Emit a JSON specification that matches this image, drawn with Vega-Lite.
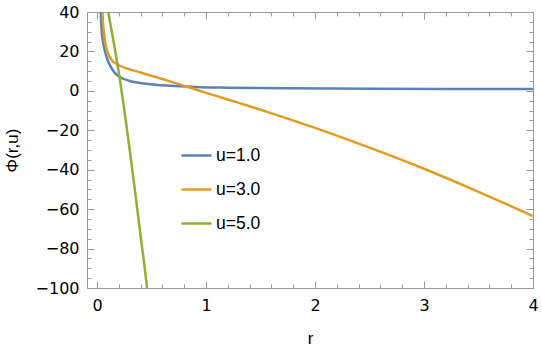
{
  "$schema": "https://vega.github.io/schema/vega-lite/v6.json",
  "width": 446,
  "height": 276,
  "autosize": {"type": "none"},
  "padding": {"left": 87, "top": 12, "right": 9, "bottom": 65},
  "background": "white",
  "config": {
    "view": {"stroke": null},
    "font": "Liberation Sans",
    "axis": {
      "grid": false,
      "domainColor": "#999999",
      "domainWidth": 1,
      "tickColor": "#999999",
      "tickWidth": 1,
      "labelFont": "DejaVu Sans",
      "labelFontSize": 16,
      "labelColor": "#000000",
      "titleFont": "Liberation Sans",
      "titleFontSize": 17,
      "titleFontWeight": "normal",
      "titleColor": "#000000",
      "labelOverlap": false,
      "labelFlush": false
    }
  },
  "datasets": {
    "curves": [
      {"r": 0.031, "phi": 45, "u": "u=1.0"},
      {"r": 0.034, "phi": 40, "u": "u=1.0"},
      {"r": 0.043, "phi": 30, "u": "u=1.0"},
      {"r": 0.058, "phi": 24, "u": "u=1.0"},
      {"r": 0.083, "phi": 18, "u": "u=1.0"},
      {"r": 0.12, "phi": 12.8, "u": "u=1.0"},
      {"r": 0.165, "phi": 9, "u": "u=1.0"},
      {"r": 0.21, "phi": 7, "u": "u=1.0"},
      {"r": 0.33, "phi": 4.6, "u": "u=1.0"},
      {"r": 0.49, "phi": 3.4, "u": "u=1.0"},
      {"r": 0.64, "phi": 2.7, "u": "u=1.0"},
      {"r": 0.82, "phi": 2.15, "u": "u=1.0"},
      {"r": 0.95, "phi": 1.85, "u": "u=1.0"},
      {"r": 1.2, "phi": 1.6, "u": "u=1.0"},
      {"r": 1.7, "phi": 1.35, "u": "u=1.0"},
      {"r": 2.5, "phi": 1.1, "u": "u=1.0"},
      {"r": 3.2, "phi": 0.97, "u": "u=1.0"},
      {"r": 4.0, "phi": 0.9, "u": "u=1.0"},

      {"r": 0.047, "phi": 45, "u": "u=3.0"},
      {"r": 0.05, "phi": 40, "u": "u=3.0"},
      {"r": 0.064, "phi": 29, "u": "u=3.0"},
      {"r": 0.089, "phi": 21, "u": "u=3.0"},
      {"r": 0.135, "phi": 15.6, "u": "u=3.0"},
      {"r": 0.18, "phi": 13.6, "u": "u=3.0"},
      {"r": 0.27, "phi": 11.4, "u": "u=3.0"},
      {"r": 0.4, "phi": 9.3, "u": "u=3.0"},
      {"r": 0.49, "phi": 7.8, "u": "u=3.0"},
      {"r": 0.6, "phi": 6.0, "u": "u=3.0"},
      {"r": 0.7, "phi": 4.3, "u": "u=3.0"},
      {"r": 0.82, "phi": 2.2, "u": "u=3.0"},
      {"r": 1.0, "phi": -1, "u": "u=3.0"},
      {"r": 1.25, "phi": -5.2, "u": "u=3.0"},
      {"r": 1.5, "phi": -9.6, "u": "u=3.0"},
      {"r": 1.68, "phi": -12.8, "u": "u=3.0"},
      {"r": 2.0, "phi": -18.8, "u": "u=3.0"},
      {"r": 2.5, "phi": -28.8, "u": "u=3.0"},
      {"r": 3.0, "phi": -39.5, "u": "u=3.0"},
      {"r": 3.5, "phi": -51.2, "u": "u=3.0"},
      {"r": 4.0, "phi": -63.5, "u": "u=3.0"},

      {"r": 0.1, "phi": 41.5, "u": "u=5.0"},
      {"r": 0.104, "phi": 40, "u": "u=5.0"},
      {"r": 0.15, "phi": 25.5, "u": "u=5.0"},
      {"r": 0.205, "phi": 7.5, "u": "u=5.0"},
      {"r": 0.25, "phi": -9.5, "u": "u=5.0"},
      {"r": 0.3, "phi": -30, "u": "u=5.0"},
      {"r": 0.35, "phi": -51.5, "u": "u=5.0"},
      {"r": 0.4, "phi": -73.5, "u": "u=5.0"},
      {"r": 0.456, "phi": -98.5, "u": "u=5.0"},
      {"r": 0.462, "phi": -101.5, "u": "u=5.0"}
    ]
  },
  "data": {"name": "curves"},
  "layer": [
    {
      "mark": {"type": "line", "clip": true, "strokeWidth": 2.5, "interpolate": "monotone"},
      "encoding": {
        "x": {
          "field": "r", "type": "quantitative",
          "scale": {"domain": [-0.092, 4], "nice": false, "zero": false},
          "axis": {
            "orient": "bottom",
            "title": "r",
            "titlePadding": 14,
            "values": [0, 0.2, 0.4, 0.6, 0.8, 1, 1.2, 1.4, 1.6, 1.8, 2, 2.2, 2.4, 2.6, 2.8, 3, 3.2, 3.4, 3.6, 3.8, 4],
            "tickSize": {"condition": {"test": "abs(datum.value - round(datum.value)) < 0.001", "value": -7}, "value": -4},
            "labelPadding": 16,
            "labelExpr": "abs(datum.value - round(datum.value)) < 0.001 ? format(datum.value, 'd') : ''"
          }
        },
        "y": {
          "field": "phi", "type": "quantitative",
          "scale": {"domain": [-100, 40], "nice": false, "zero": false},
          "axis": {
            "orient": "left",
            "title": "Φ(r,u)",
            "titlePadding": 14,
            "values": [-100, -95, -90, -85, -80, -75, -70, -65, -60, -55, -50, -45, -40, -35, -30, -25, -20, -15, -10, -5, 0, 5, 10, 15, 20, 25, 30, 35, 40],
            "tickSize": {"condition": {"test": "datum.value % 20 === 0", "value": -7}, "value": -4},
            "labelPadding": 15,
            "labelExpr": "datum.value % 20 === 0 ? format(datum.value, 'd') : ''"
          }
        },
        "color": {
          "field": "u", "type": "nominal",
          "scale": {"domain": ["u=1.0", "u=3.0", "u=5.0"], "range": ["#5E81B5", "#E19C24", "#8FB032"]},
          "legend": {
            "orient": "none",
            "legendX": 93,
            "legendY": 127,
            "title": null,
            "padding": 0,
            "symbolType": "stroke",
            "symbolSize": 900,
            "symbolStrokeWidth": 2.5,
            "labelFont": "Liberation Sans",
            "labelFontSize": 17.5,
            "labelColor": "#000000",
            "labelOffset": 3,
            "rowPadding": 9
          }
        }
      }
    },
    {
      "mark": {"type": "point", "opacity": 0, "clip": true},
      "encoding": {
        "x": {
          "field": "r", "type": "quantitative",
          "scale": {"domain": [-0.092, 4], "nice": false, "zero": false},
          "axis": {
            "orient": "top",
            "title": null,
            "labels": false,
            "values": [0, 0.2, 0.4, 0.6, 0.8, 1, 1.2, 1.4, 1.6, 1.8, 2, 2.2, 2.4, 2.6, 2.8, 3, 3.2, 3.4, 3.6, 3.8, 4],
            "tickSize": {"condition": {"test": "abs(datum.value - round(datum.value)) < 0.001", "value": -7}, "value": -4}
          }
        },
        "y": {
          "field": "phi", "type": "quantitative",
          "scale": {"domain": [-100, 40], "nice": false, "zero": false},
          "axis": {
            "orient": "right",
            "title": null,
            "labels": false,
            "values": [-100, -95, -90, -85, -80, -75, -70, -65, -60, -55, -50, -45, -40, -35, -30, -25, -20, -15, -10, -5, 0, 5, 10, 15, 20, 25, 30, 35, 40],
            "tickSize": {"condition": {"test": "datum.value % 20 === 0", "value": -7}, "value": -4}
          }
        }
      }
    }
  ],
  "resolve": {"axis": {"x": "independent", "y": "independent"}}
}
